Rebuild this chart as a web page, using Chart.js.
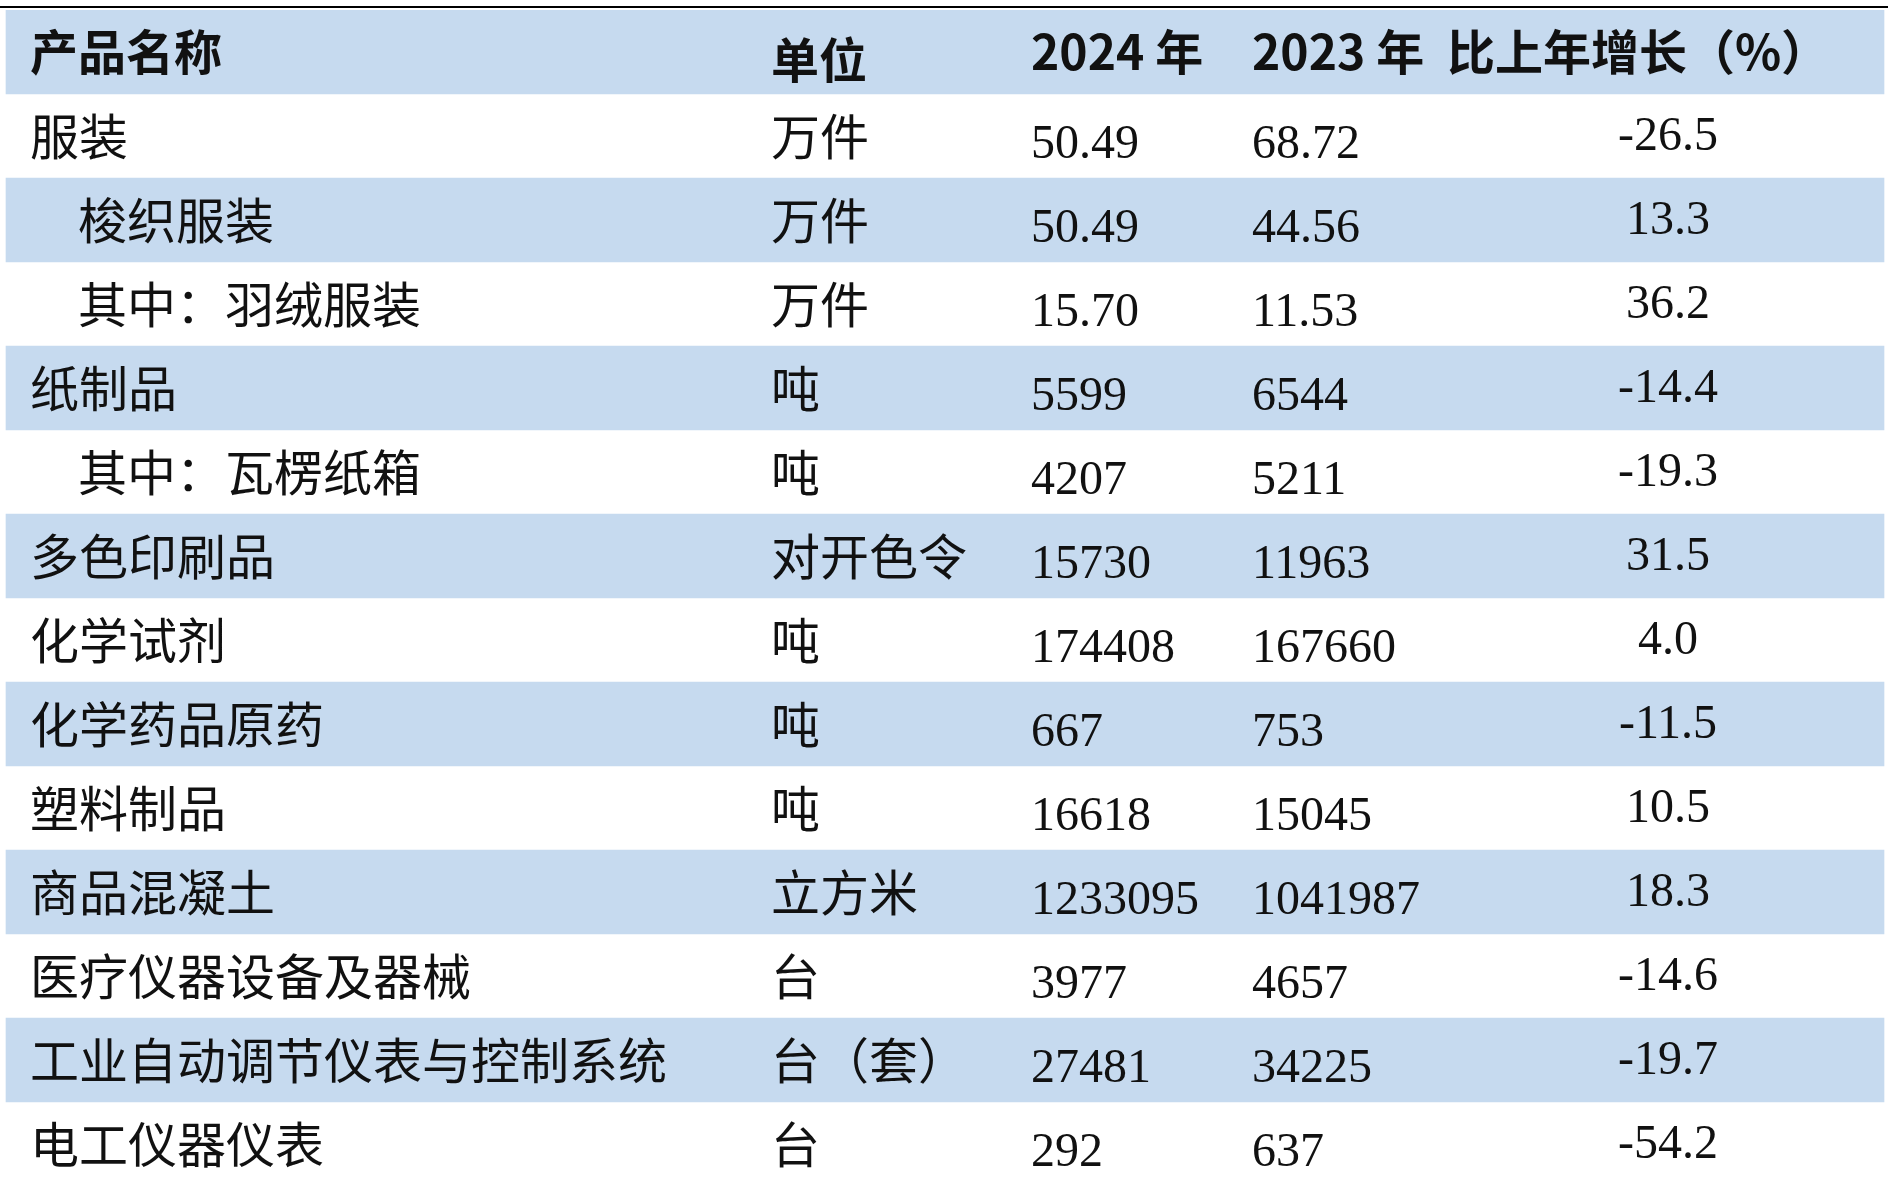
<!DOCTYPE html>
<html>
<head>
<meta charset="utf-8">
<script src="https://cdn.jsdelivr.net/npm/chart.js@4"></script>
<style>
  html, body { margin: 0; padding: 0; background: #fff; }
  #wrap { width: 1888px; height: 1186px; }
</style>
</head>
<body>
<div id="wrap"><canvas id="c"></canvas></div>
<script>
const headers = ["产品名称", "单位", "2024 年", "2023 年", "比上年增长（%）"];
const products = ["服装", "梭织服装", "其中：羽绒服装", "纸制品", "其中：瓦楞纸箱", "多色印刷品", "化学试剂",
  "化学药品原药", "塑料制品", "商品混凝土", "医疗仪器设备及器械", "工业自动调节仪表与控制系统", "电工仪器仪表"];
const indented = [false, true, true, false, true, false, false, false, false, false, false, false, false];
const units = ["万件", "万件", "万件", "吨", "吨", "对开色令", "吨", "吨", "吨", "立方米", "台", "台（套）", "台"];
const values2024 = ["50.49", "50.49", "15.70", "5599", "4207", "15730", "174408", "667", "16618", "1233095", "3977", "27481", "292"];
const values2023 = ["68.72", "44.56", "11.53", "6544", "5211", "11963", "167660", "753", "15045", "1041987", "4657", "34225", "637"];
const growth = ["-26.5", "13.3", "36.2", "-14.4", "-19.3", "31.5", "4.0", "-11.5", "10.5", "18.3", "-14.6", "-19.7", "-54.2"];

const rowLabels = ["header"].concat(products);
const shade = "#c6daef";
// column anchors on the x scale (0..1888)
const colName = 30, colIndent = 78, colUnit = 771, col2024 = 1031, col2023 = 1252, colGrowth = 1668;

const cjk = '"Noto Sans CJK SC", sans-serif';
const num = '"Liberation Serif", serif';

const tablePlugin = {
  id: "tableText",
  afterDatasetsDraw(chart) {
    const { ctx, scales: { x, y }, chartArea } = chart;
    ctx.save();
    ctx.strokeStyle = "#000";
    ctx.lineWidth = 2;
    ctx.beginPath();
    ctx.moveTo(x.getPixelForValue(0), chartArea.top - 3);
    ctx.lineTo(x.getPixelForValue(1888), chartArea.top - 3);
    ctx.stroke();
    ctx.fillStyle = "#111";
    ctx.textBaseline = "middle";

    const hy = y.getPixelForValue(0);
    ctx.font = "bold 48px " + cjk;
    ctx.textAlign = "left";
    ctx.fillText(headers[0], x.getPixelForValue(colName), hy);
    ctx.fillText(headers[1], x.getPixelForValue(colUnit), hy + 8);
    ctx.fillText(headers[2], x.getPixelForValue(col2024), hy);
    ctx.fillText(headers[3], x.getPixelForValue(col2023), hy);
    ctx.textAlign = "center";
    ctx.fillText(headers[4], x.getPixelForValue(colGrowth - 30), hy);

    products.forEach((p, i) => {
      const cy = y.getPixelForValue(i + 1);
      ctx.textAlign = "left";
      ctx.font = "49px " + cjk;
      ctx.fillText(p, x.getPixelForValue(indented[i] ? colIndent : colName), cy);
      ctx.fillText(units[i], x.getPixelForValue(colUnit), cy);
      ctx.font = "48px " + num;
      ctx.fillText(values2024[i], x.getPixelForValue(col2024), cy + 9);
      ctx.fillText(values2023[i], x.getPixelForValue(col2023), cy + 9);
      ctx.textAlign = "center";
      ctx.fillText(growth[i], x.getPixelForValue(colGrowth), cy + 1);
    });
    ctx.restore();
  }
};

new Chart(document.getElementById("c"), {
  type: "bar",
  data: {
    labels: rowLabels,
    datasets: [{
      data: rowLabels.map((_, i) => (i % 2 === 0 ? [6, 1884] : null)),
      backgroundColor: shade,
      borderWidth: 0,
      barPercentage: 1,
      categoryPercentage: 1
    }]
  },
  options: {
    indexAxis: "y",
    responsive: true,
    maintainAspectRatio: false,
    animation: false,
    layout: { padding: { top: 10, bottom: 0, left: 0, right: 0 } },
    plugins: { legend: { display: false }, tooltip: { enabled: false } },
    scales: {
      x: { type: "linear", min: 0, max: 1888, display: false },
      y: { display: false, offset: true }
    }
  },
  plugins: [tablePlugin]
});
</script>
</body>
</html>
